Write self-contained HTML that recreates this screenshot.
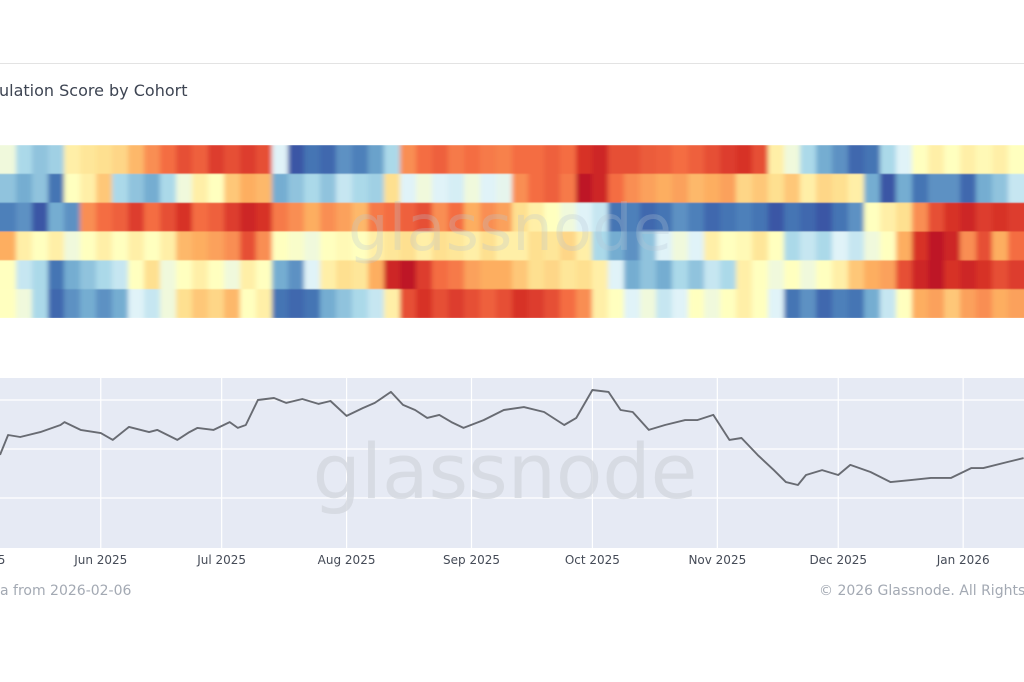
<!DOCTYPE html>
<html><head><meta charset="utf-8"><style>
html,body{margin:0;padding:0;background:#fff;width:1024px;height:682px;overflow:hidden;font-family:"DejaVu Sans","Liberation Sans",sans-serif}
svg{position:absolute;left:0;top:0}
</style></head><body>
<svg id="chart" width="1024" height="682" viewBox="0 0 1024 682">
<defs>
<filter id="hblur" x="0" y="0" width="1" height="1"><feGaussianBlur stdDeviation="2.5 0.6"/></filter>
<clipPath id="heatClip"><rect x="0" y="145" width="1024" height="173"/></clipPath>
</defs>
<line x1="0" y1="63.5" x2="1024" y2="63.5" stroke="#e3e3e3"/>
<text x="-1" y="96" font-size="16" fill="#3d4452">ulation Score by Cohort</text>
<g clip-path="url(#heatClip)"><g id="heat" filter="url(#hblur)"></g></g>
<text x="510" y="250" font-size="64" fill="#b8c4d4" fill-opacity="0.28" text-anchor="middle">glassnode</text>
<rect x="0" y="378" width="1024" height="170" fill="#e6eaf4"/>
<g id="grid"></g>
<text x="505" y="498" font-size="76" fill="#d3d7df" fill-opacity="0.8" text-anchor="middle">glassnode</text>
<path id="priceLine" fill="none" stroke="#686b72" stroke-width="1.9" stroke-linejoin="round"/>
<g id="xticks"></g>
<text x="0" y="595" font-size="14" fill="#a3a9b3">a from 2026-02-06</text>
<text x="819" y="595" font-size="14" fill="#a3a9b3">© 2026 Glassnode. All Rights Reserved.</text>
</svg>
<script>
const row1=[0.45,0.3,0.25,0.28,0.55,0.58,0.6,0.62,0.68,0.75,0.8,0.85,0.82,0.88,0.85,0.88,0.85,0.4,0.05,0.1,0.08,0.15,0.12,0.18,0.3,0.75,0.8,0.82,0.78,0.8,0.78,0.77,0.8,0.8,0.82,0.8,0.9,0.92,0.85,0.85,0.83,0.82,0.8,0.82,0.85,0.88,0.9,0.85,0.55,0.45,0.3,0.2,0.15,0.08,0.1,0.3,0.4,0.5,0.55,0.5,0.55,0.52,0.55,0.5];
const row2=[0.25,0.2,0.25,0.1,0.5,0.55,0.65,0.3,0.25,0.2,0.3,0.45,0.55,0.5,0.65,0.7,0.68,0.2,0.25,0.3,0.25,0.35,0.3,0.28,0.6,0.4,0.45,0.4,0.38,0.45,0.4,0.42,0.75,0.8,0.82,0.78,0.95,0.92,0.8,0.75,0.72,0.7,0.72,0.68,0.7,0.72,0.62,0.65,0.6,0.65,0.55,0.62,0.6,0.55,0.2,0.05,0.2,0.1,0.15,0.15,0.08,0.2,0.25,0.35];
const row3=[0.12,0.15,0.05,0.2,0.15,0.75,0.8,0.82,0.88,0.8,0.85,0.9,0.8,0.82,0.88,0.92,0.9,0.78,0.75,0.7,0.75,0.72,0.68,0.78,0.8,0.82,0.85,0.75,0.8,0.7,0.75,0.72,0.6,0.55,0.5,0.45,0.4,0.35,0.1,0.12,0.08,0.1,0.15,0.12,0.08,0.1,0.12,0.1,0.05,0.1,0.08,0.05,0.1,0.15,0.5,0.55,0.6,0.75,0.85,0.9,0.92,0.88,0.9,0.88];
const row4=[0.7,0.55,0.5,0.55,0.45,0.5,0.55,0.5,0.55,0.5,0.55,0.68,0.7,0.72,0.75,0.85,0.75,0.5,0.48,0.45,0.5,0.52,0.5,0.55,0.58,0.6,0.55,0.6,0.58,0.55,0.6,0.55,0.55,0.6,0.58,0.62,0.55,0.3,0.2,0.15,0.25,0.4,0.45,0.4,0.55,0.5,0.52,0.58,0.5,0.3,0.35,0.3,0.4,0.35,0.45,0.5,0.7,0.9,0.95,0.92,0.75,0.85,0.7,0.8];
const row5=[0.5,0.35,0.3,0.1,0.2,0.25,0.3,0.35,0.5,0.6,0.45,0.5,0.55,0.5,0.45,0.55,0.5,0.2,0.15,0.4,0.55,0.6,0.58,0.7,0.92,0.95,0.88,0.8,0.78,0.72,0.7,0.7,0.65,0.6,0.62,0.58,0.6,0.55,0.4,0.2,0.25,0.2,0.3,0.25,0.35,0.3,0.55,0.5,0.45,0.5,0.45,0.5,0.55,0.65,0.7,0.72,0.85,0.92,0.95,0.9,0.92,0.9,0.85,0.88];
const row6=[0.5,0.45,0.3,0.08,0.15,0.2,0.15,0.2,0.4,0.35,0.45,0.6,0.65,0.62,0.68,0.5,0.55,0.1,0.08,0.1,0.2,0.25,0.3,0.35,0.55,0.85,0.9,0.85,0.88,0.85,0.82,0.85,0.9,0.88,0.85,0.8,0.75,0.55,0.5,0.4,0.45,0.35,0.4,0.5,0.45,0.5,0.55,0.5,0.4,0.1,0.15,0.08,0.12,0.1,0.2,0.35,0.5,0.7,0.72,0.65,0.72,0.75,0.7,0.72];
const priceDays=[0,2,5,10,15,16,20,25,28,32,37,39,44,47,49,53,57,59,61,64,68,71,75,79,82,86,90,93,97,100,103,106,109,112,115,120,125,130,135,140,143,147,151,154,157,161,165,170,173,177,181,184,188,192,195,198,200,204,208,211,216,221,226,231,236,241,244,250,254];
const priceValues=[97600,105700,104900,106900,109800,111000,107800,106500,103700,109000,106900,107800,103700,106900,108600,107800,111000,108600,109800,120000,120800,118800,120400,118400,119600,113500,116700,118800,123300,118000,115900,112700,113900,111000,108600,111800,115900,117100,115100,109800,112700,124100,123300,115900,115100,107800,109800,111800,111800,113900,103700,104500,97600,91400,86500,85300,89400,91400,89400,93500,90600,86500,87300,88200,88200,92200,92200,94700,96300];
const tickLabels=["May 2025","Jun 2025","Jul 2025","Aug 2025","Sep 2025","Oct 2025","Nov 2025","Dec 2025","Jan 2026"];
const tickDays=[-6,25,55,86,117,147,178,208,239];
const gridValues=[120000,100000,80000];

const NS="http://www.w3.org/2000/svg";
const xDay=d=>d*4.03;
const yPrice=v=>400+(120000-v)/20000*49;
const stops=[[0,[49,54,149]],[0.1,[69,117,180]],[0.2,[116,173,209]],[0.3,[171,217,233]],[0.4,[224,243,248]],[0.5,[255,255,191]],[0.6,[254,224,144]],[0.7,[253,174,97]],[0.8,[244,109,67]],[0.9,[215,48,39]],[1,[165,0,38]]];
function color(v){v=Math.max(0,Math.min(1,v));for(let i=1;i<stops.length;i++){if(v<=stops[i][0]){const a=stops[i-1],b=stops[i],t=(v-a[0])/(b[0]-a[0]);return "rgb("+a[1].map((c,k)=>Math.round(c+(b[1][k]-c)*t)).join(",")+")";}}return "rgb(165,0,38)";}
const rows=[row1,row2,row3,row4,row5,row6];
const heat=document.getElementById('heat');
const top0=145,rowH=(318-145)/6,colW=1024/64;
rows.forEach((r,ri)=>r.forEach((v,ci)=>{
 const el=document.createElementNS(NS,'rect');
 
 
 el.setAttribute('x',ci*colW-(ci===0?6:0));el.setAttribute('y',top0+ri*rowH);
 el.setAttribute('width',colW+0.5+(ci===0||ci===63?6:0));el.setAttribute('height',rowH+0.3);
 el.setAttribute('fill',color(v));heat.appendChild(el);
}));
const grid=document.getElementById('grid');
gridValues.forEach(v=>{
 const l=document.createElementNS(NS,'line');
 
 
 l.setAttribute('x1',0);l.setAttribute('x2',1024);l.setAttribute('y1',yPrice(v));l.setAttribute('y2',yPrice(v));
 l.setAttribute('stroke','#fff');l.setAttribute('stroke-width','1.2');grid.appendChild(l);
});
const xt=document.getElementById('xticks');
tickDays.forEach((d,i)=>{
 const x=xDay(d);
 const l=document.createElementNS(NS,'line');
 
 
 l.setAttribute('x1',x);l.setAttribute('x2',x);l.setAttribute('y1',378);l.setAttribute('y2',548);
 l.setAttribute('stroke','#fff');l.setAttribute('stroke-width','1.2');grid.appendChild(l);
 const t=document.createElementNS(NS,'text');
 
 
 t.setAttribute('x',x);t.setAttribute('y',564);t.setAttribute('font-size','12');t.setAttribute('fill','#454b57');
 t.setAttribute('text-anchor','middle');t.textContent=tickLabels[i];xt.appendChild(t);
});
document.getElementById('priceLine').setAttribute('d',priceDays.map((d,i)=>(i?'L':'M')+xDay(d).toFixed(1)+','+yPrice(priceValues[i]).toFixed(1)).join(''));
</script>
</body></html>
